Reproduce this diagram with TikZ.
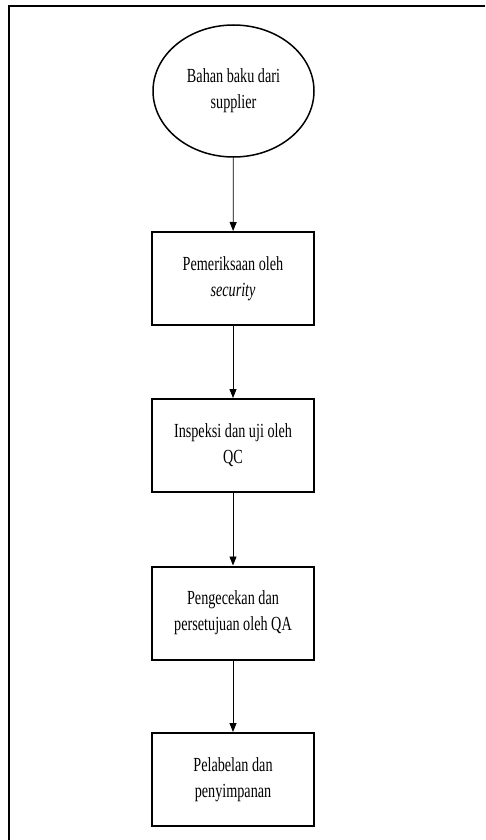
\documentclass[tikz,border=0pt]{standalone}
\usepackage{fontspec}
\setmainfont{Liberation Serif}[FakeStretch=0.71]
\usetikzlibrary{shapes.geometric,arrows.meta}
\begin{document}
\begin{tikzpicture}[x=1pt,y=-1pt,
  startoval/.style={draw,ellipse,line width=1.5pt,minimum width=161pt,minimum height=132pt,align=center,inner sep=0pt,font=\fontsize{20}{26}\selectfont},
  stepbox/.style={draw,line width=2pt,minimum width=162pt,minimum height=93pt,align=center,inner sep=0pt,font=\fontsize{20}{26}\selectfont},
  flow/.style={-{Triangle[length=9pt,width=7pt]},line width=0.8pt}]

\useasboundingbox (0,0) rectangle (485,840);

% page frame
\draw[line width=2pt] (9,840) -- (9,6) -- (485,6);

% start
\node [startoval] (bahan) at (233.5, 91) {Bahan baku dari\\supplier};

% steps
\node [stepbox] (periksa) at (233, 278.5) {Pemeriksaan oleh\\\textit{security}};
\node [stepbox] (inspeksi) at (233, 445.5) {Inspeksi dan uji oleh\\QC};
\node [stepbox] (cek) at (233, 613) {Pengecekan dan\\persetujuan oleh QA};
\node [stepbox] (label) at (233, 779.5) {Pelabelan dan\\penyimpanan};

% arrows
\draw[flow] (bahan) -- (periksa);
\draw[flow] (periksa) -- (inspeksi);
\draw[flow] (inspeksi) -- (cek);
\draw[flow] (cek) -- (label);

\end{tikzpicture}
\end{document}
